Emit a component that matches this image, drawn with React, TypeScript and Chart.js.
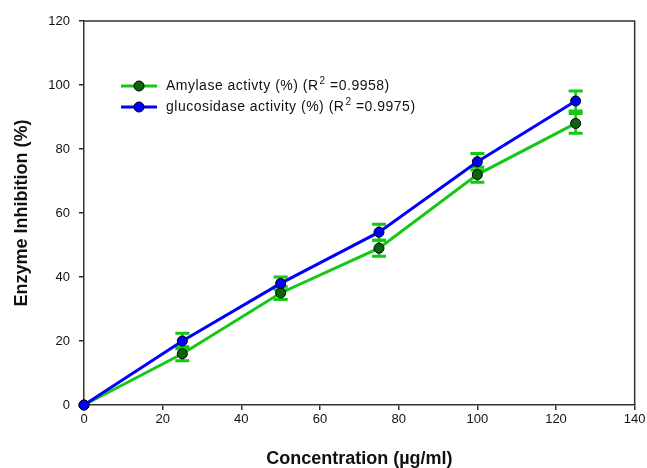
import React, { useEffect, useRef } from "react";
import { Chart, registerables } from "chart.js";

Chart.register(...registerables);

const concentrations = [0, 25, 50, 75, 100, 125];
const amylase = [0, 16, 35, 49, 72, 88];
const amylaseErr = [0, 2.2, 2.0, 2.5, 2.4, 3.1];
const glucosidase = [0, 20, 38, 54, 76, 95];
const glucosidaseErr = [0, 2.4, 2.0, 2.5, 2.6, 3.1];
const xTicks = [0, 20, 40, 60, 80, 100, 120, 140];
const yTicks = [0, 20, 40, 60, 80, 100, 120];

const legendItems = [
  { label: "Amylase activty (%) (R", sup: "2", tail: " =0.9958)", line: "#14c814", fill: "#0a640a" },
  { label: "glucosidase activity (%) (R", sup: "2", tail: " =0.9975)", line: "#0000ff", fill: "#0000ff" },
];

const FONT = "Arial, 'Liberation Sans', sans-serif";
const ERR_COLOR = "#14c814";

const errorBarPlugin = {
  id: "errorBars",
  beforeDatasetsDraw(chart: any) {
    const ctx = chart.ctx;
    const yScale = chart.scales.y;
    ctx.save();
    chart.data.datasets.forEach((ds: any, di: number) => {
      const meta = chart.getDatasetMeta(di);
      const errs: number[] = ds.errors || [];
      meta.data.forEach((pt: any, i: number) => {
        const e = errs[i];
        if (!e) return;
        const v = ds.data[i].y;
        const top = yScale.getPixelForValue(v + e);
        const bot = yScale.getPixelForValue(v - e);
        ctx.strokeStyle = ERR_COLOR;
        ctx.lineWidth = 2.5;
        ctx.beginPath();
        ctx.moveTo(pt.x, top);
        ctx.lineTo(pt.x, bot);
        ctx.stroke();
        ctx.lineWidth = 3;
        ctx.beginPath();
        ctx.moveTo(pt.x - 7, top);
        ctx.lineTo(pt.x + 7, top);
        ctx.moveTo(pt.x - 7, bot);
        ctx.lineTo(pt.x + 7, bot);
        ctx.stroke();
      });
    });
    ctx.restore();
  },
};

const framePlugin = {
  id: "frame",
  afterDraw(chart: any) {
    const { ctx, chartArea } = chart;
    ctx.save();
    ctx.strokeStyle = "#333";
    ctx.lineWidth = 1.5;
    ctx.beginPath();
    ctx.moveTo(chartArea.left, chartArea.top);
    ctx.lineTo(chartArea.right, chartArea.top);
    ctx.lineTo(chartArea.right, chartArea.bottom);
    ctx.stroke();
    ctx.restore();
  },
};

const legendPlugin = {
  id: "customLegend",
  afterDatasetsDraw(chart: any) {
    const { ctx, chartArea } = chart;
    ctx.save();
    const x0 = chartArea.left + 37;
    const y0 = chartArea.top + 65;
    legendItems.forEach((item, i) => {
      const y = y0 + i * 21;
      ctx.strokeStyle = item.line;
      ctx.lineWidth = 3;
      ctx.beginPath();
      ctx.moveTo(x0, y);
      ctx.lineTo(x0 + 36, y);
      ctx.stroke();
      ctx.beginPath();
      ctx.arc(x0 + 18, y, 5, 0, Math.PI * 2);
      ctx.fillStyle = item.fill;
      ctx.fill();
      ctx.lineWidth = 1;
      ctx.strokeStyle = "#000";
      ctx.stroke();
      ctx.fillStyle = "#111";
      ctx.textBaseline = "middle";
      ctx.textAlign = "left";
      (ctx as any).letterSpacing = "0.5px";
      ctx.font = `14px ${FONT}`;
      let tx = x0 + 45;
      ctx.fillText(item.label, tx, y);
      tx += ctx.measureText(item.label).width + 1;
      ctx.font = `10px ${FONT}`;
      ctx.fillText(item.sup, tx, y - 5);
      tx += ctx.measureText(item.sup).width;
      ctx.font = `14px ${FONT}`;
      ctx.fillText(item.tail, tx, y);
      (ctx as any).letterSpacing = "0px";
    });
    ctx.restore();
  },
};

export default function App() {
  const ref = useRef<HTMLCanvasElement | null>(null);
  useEffect(() => {
    if (!ref.current) return;
    const chart = new Chart(ref.current, {
      type: "line",
      data: {
        datasets: [
          {
            label: "glucosidase activity (%)",
            data: concentrations.map((c, i) => ({ x: c, y: glucosidase[i] })),
            errors: glucosidaseErr,
            borderColor: "#0000ff",
            backgroundColor: "#0000ff",
            pointBackgroundColor: "#0000ff",
            pointBorderColor: "#000",
            pointBorderWidth: 1,
            pointRadius: 5,
            borderWidth: 3,
            tension: 0,
            clip: false,
          } as any,
          {
            label: "Amylase activty (%)",
            data: concentrations.map((c, i) => ({ x: c, y: amylase[i] })),
            errors: amylaseErr,
            borderColor: "#14c814",
            backgroundColor: "#0a640a",
            pointBackgroundColor: "#0a640a",
            pointBorderColor: "#000",
            pointBorderWidth: 1,
            pointRadius: 5,
            borderWidth: 3,
            tension: 0,
            clip: false,
          } as any,
        ],
      },
      options: {
        animation: false,
        responsive: false,
        maintainAspectRatio: false,
        layout: { padding: { left: 0, right: 12, top: 21, bottom: 0 } },
        plugins: { legend: { display: false }, tooltip: { enabled: false } },
        scales: {
          x: {
            type: "linear",
            min: 0,
            max: 140,
            afterFit: (s: any) => { s.height = 63; },
            afterBuildTicks: (s: any) => { s.ticks = xTicks.map((v) => ({ value: v })); },
            grid: { display: true, drawOnChartArea: false, drawTicks: true, tickLength: 5, color: "#333", lineWidth: 1.5 },
            border: { display: true, color: "#333", width: 1.5 },
            ticks: { color: "#111", padding: 1.5, font: { family: FONT, size: 13 } },
            title: {
              display: true,
              text: "Concentration (µg/ml)",
              color: "#111",
              font: { family: FONT, size: 18, weight: "bold", lineHeight: 1 },
              padding: { top: 0, bottom: 0 },
            },
          },
          y: {
            type: "linear",
            min: 0,
            max: 120,
            afterFit: (s: any) => { s.width = 84; },
            afterBuildTicks: (s: any) => { s.ticks = yTicks.map((v) => ({ value: v })); },
            grid: { display: true, drawOnChartArea: false, drawTicks: true, tickLength: 5, color: "#333", lineWidth: 1.5 },
            border: { display: true, color: "#333", width: 1.5 },
            ticks: { color: "#111", padding: 9, font: { family: FONT, size: 13 } },
            title: {
              display: true,
              text: "Enzyme Inhibition (%)",
              color: "#111",
              font: { family: FONT, size: 18, weight: "bold", lineHeight: 1.2 },
              padding: { top: 11, bottom: 0 },
            },
          },
        },
      } as any,
      plugins: [errorBarPlugin, framePlugin, legendPlugin],
    });
    return () => chart.destroy();
  }, []);
  return (
    <div style={{ position: "fixed", left: 0, top: 0, width: 647, height: 468, background: "#fff" }}>
      <canvas ref={ref} width={647} height={468} style={{ display: "block", width: 647, height: 468 }} />
    </div>
  );
}
